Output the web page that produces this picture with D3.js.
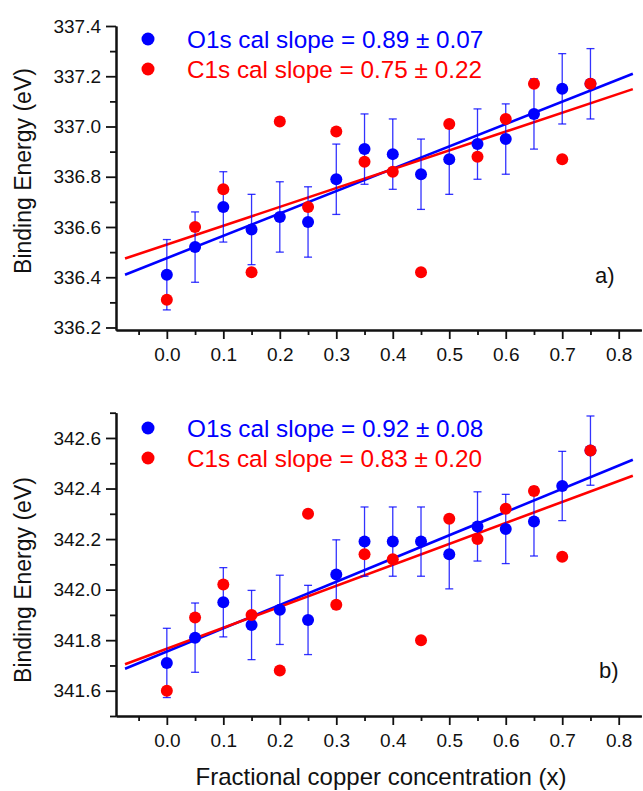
<!DOCTYPE html>
<html>
<head>
<meta charset="utf-8">
<script src="https://cdn.jsdelivr.net/npm/d3@7"></script>
<style>
  body { margin: 0; background: #fff; }
  svg { display: block; }
  text { font-family: "Liberation Sans", Arial, sans-serif; }
</style>
</head>
<body>
<script>
// copper fraction
const xVals = [0, 0.05, 0.1, 0.15, 0.2, 0.25, 0.3, 0.35, 0.4, 0.45, 0.5, 0.55, 0.6, 0.65, 0.7, 0.75];

// panel a)
const o1sA = [336.41, 336.52, 336.68, 336.59, 336.64, 336.62, 336.79, 336.91, 336.89, 336.81, 336.87, 336.93, 336.95, 337.05, 337.15, 337.17];
const errA = [0.14, 0.14, 0.14, 0.14, 0.14, 0.14, 0.14, 0.14, 0.14, 0.14, 0.14, 0.14, 0.14, 0.14, 0.14, 0.14];
const c1sA = [336.31, 336.60, 336.75, 336.42, 337.02, 336.68, 336.98, 336.86, 336.82, 336.42, 337.01, 336.88, 337.03, 337.17, 336.87, 337.17];
const fitA = [[336.476, 0.89], [336.53, 0.75]]; // [intercept, slope] for O1s, C1s
const legendA = ["O1s cal slope = 0.89 \u00b1 0.07", "C1s cal slope = 0.75 \u00b1 0.22"];

// panel b)
const o1sB = [341.71, 341.81, 341.95, 341.86, 341.92, 341.88, 342.06, 342.19, 342.19, 342.19, 342.14, 342.25, 342.24, 342.27, 342.41, 342.55];
const errB = [0.137, 0.137, 0.137, 0.137, 0.137, 0.137, 0.137, 0.137, 0.137, 0.137, 0.137, 0.137, 0.137, 0.137, 0.137, 0.137];
const c1sB = [341.60, 341.89, 342.02, 341.90, 341.68, 342.30, 341.94, 342.14, 342.12, 341.80, 342.28, 342.20, 342.32, 342.39, 342.13, 342.55];
const fitB = [[341.755, 0.92], [341.766, 0.83]];
const legendB = ["O1s cal slope = 0.92 \u00b1 0.08", "C1s cal slope = 0.83 \u00b1 0.20"];

const fitRange = [-0.074, 0.825];
const colors = ["#0000ff", "#ff0000"];

const width = 643, height = 791;
const svg = d3.select("body").append("svg")
    .attr("width", width)
    .attr("height", height);

const x = d3.scaleLinear().domain([-0.09, 0.84]).range([116, 641.3]);

function drawPanel(p) {
    const y = d3.scaleLinear().domain(p.yDomain).range(p.yRange);
    const g = svg.append("g");
    const yBase = p.yRange[0];

    // fit lines
    p.fit.forEach((f, i) => {
        g.append("line")
            .attr("x1", x(fitRange[0])).attr("y1", y(f[0] + f[1] * fitRange[0]))
            .attr("x2", x(fitRange[1])).attr("y2", y(f[0] + f[1] * fitRange[1]))
            .attr("stroke", colors[i])
            .attr("stroke-width", 2.6);
    });

    // error bars on O1s
    const eb = g.append("g")
        .attr("stroke", colors[0])
        .attr("stroke-width", 1.3)
        .attr("stroke-opacity", 0.8);
    xVals.forEach((xv, i) => {
        const cx = x(xv), top = y(p.o1s[i] + p.err[i]), bot = y(p.o1s[i] - p.err[i]);
        eb.append("line").attr("x1", cx).attr("x2", cx).attr("y1", top).attr("y2", bot);
        eb.append("line").attr("x1", cx - 4).attr("x2", cx + 4).attr("y1", top).attr("y2", top);
        eb.append("line").attr("x1", cx - 4).attr("x2", cx + 4).attr("y1", bot).attr("y2", bot);
    });

    [p.o1s, p.c1s].forEach((vals, k) => {
        g.append("g").selectAll("circle")
            .data(vals)
            .enter().append("circle")
            .attr("cx", (d, i) => x(xVals[i]))
            .attr("cy", d => y(d))
            .attr("r", 6)
            .attr("fill", colors[k]);
    });

    // axes
    const yMinor = d3.axisLeft(y).tickValues(p.yMinor).tickSize(6).tickSizeOuter(0).tickFormat("");
    const yMajor = d3.axisLeft(y).tickValues(p.yMajor).tickSize(10).tickSizeOuter(0).tickPadding(5)
        .tickFormat(d3.format(".1f"));
    const xMinor = d3.axisBottom(x).tickValues(d3.range(-0.05, 0.85, 0.1)).tickSize(5).tickSizeOuter(0).tickFormat("");
    const xMajor = d3.axisBottom(x).tickValues(d3.range(0, 0.85, 0.1)).tickSize(9).tickSizeOuter(0).tickPadding(9)
        .tickFormat(d3.format(".1f"));

    [yMinor, yMajor].forEach(a => {
        g.append("g").attr("transform", "translate(116,0)").call(a);
    });
    [xMinor, xMajor].forEach(a => {
        g.append("g").attr("transform", `translate(0,${yBase})`).call(a);
    });
    g.selectAll(".domain").attr("stroke", "#111").attr("stroke-width", 2);
    g.selectAll(".tick line").attr("stroke", "#111").attr("stroke-width", 1.8);
    g.selectAll(".tick text")
        .attr("fill", "#111")
        .style("font-size", "19px");

    // y title
    g.append("text")
        .attr("transform", `translate(31,${p.yTitleY}) rotate(-90)`)
        .attr("text-anchor", "middle")
        .style("font-size", "23px")
        .attr("fill", "#111")
        .text("Binding Energy (eV)");

    // legend
    p.legend.forEach((t, i) => {
        g.append("circle")
            .attr("cx", 148).attr("cy", p.legendY + i * 30 - 9)
            .attr("r", 6.5).attr("fill", colors[i]);
        g.append("text")
            .attr("x", 187).attr("y", p.legendY + i * 30)
            .attr("fill", colors[i])
            .style("font-size", "24.3px")
            .text(t);
    });

    g.append("text")
        .attr("x", p.tag[0]).attr("y", p.tag[1])
        .style("font-size", "22px")
        .attr("fill", "#111")
        .text(p.tagText);
}

drawPanel({
    yDomain: [336.19, 337.4], yRange: [330, 26],
    yMajor: d3.range(336.2, 337.45, 0.2),
    yMinor: d3.range(336.3, 337.4, 0.2),
    o1s: o1sA, c1s: c1sA, err: errA, fit: fitA,
    legend: legendA, legendY: 48,
    tag: [595, 283], tagText: "a)",
    yTitleY: 171
});

drawPanel({
    yDomain: [341.5, 342.7], yRange: [716, 412.7],
    yMajor: d3.range(341.6, 342.65, 0.2),
    yMinor: d3.range(341.5, 342.75, 0.2),
    o1s: o1sB, c1s: c1sB, err: errB, fit: fitB,
    legend: legendB, legendY: 437,
    tag: [599, 678], tagText: "b)",
    yTitleY: 580
});

svg.append("text")
    .attr("x", 381).attr("y", 785)
    .attr("text-anchor", "middle")
    .style("font-size", "24px")
    .attr("fill", "#111")
    .text("Fractional copper concentration (x)");
</script>
</body>
</html>
